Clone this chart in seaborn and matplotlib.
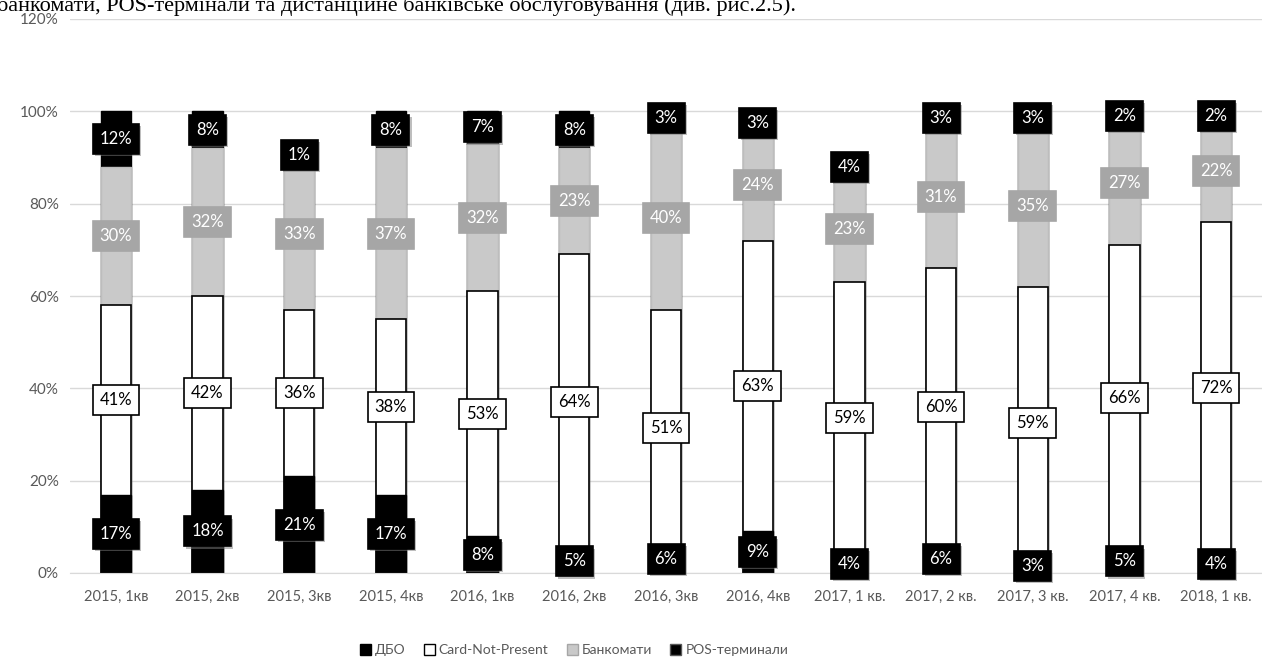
import numpy as np
import pandas as pd
import matplotlib.pyplot as plt
import matplotlib.patheffects as pe
import seaborn as sns
from matplotlib.patches import Patch

# data (shares, %)
quarters = ['2015, 1кв', '2015, 2кв', '2015, 3кв', '2015, 4кв',
            '2016, 1кв', '2016, 2кв', '2016, 3кв', '2016, 4кв',
            '2017, 1 кв.', '2017, 2 кв.', '2017, 3 кв.', '2017, 4 кв.', '2018, 1 кв.']
dbo = [17, 18, 21, 17, 8, 5, 6, 9, 4, 6, 3, 5, 4]
cnp = [41, 42, 36, 38, 53, 64, 51, 63, 59, 60, 59, 66, 72]
atm = [30, 32, 33, 37, 32, 23, 40, 24, 23, 31, 35, 27, 22]
pos = [12, 8, 1, 8, 7, 8, 3, 3, 4, 3, 3, 2, 2]
series_names = ['ДБО', 'Card-Not-Present', 'Банкомати', 'POS-терминали']

sns.set_style('white')
plt.rcParams['font.family'] = ['Lato', 'DejaVu Sans']

df = pd.DataFrame({'quarter': quarters, 'dbo': dbo, 'cnp': cnp, 'atm': atm, 'pos': pos})
df['top_dbo'] = df['dbo']
df['top_cnp'] = df['top_dbo'] + df['cnp']
df['top_atm'] = df['top_cnp'] + df['atm']
df['top_pos'] = df['top_atm'] + df['pos']

fig = plt.figure(figsize=(12.62, 6.62), dpi=100)
ax = fig.add_axes([70 / 1262, 89 / 662, 1192 / 1262, 554 / 662])

bw = 0.33
# stacked bars drawn as overlapping cumulative bars, top layer first
sns.barplot(data=df, x='quarter', y='top_pos', color='black', saturation=1,
            width=bw, edgecolor='black', linewidth=1, ax=ax)
sns.barplot(data=df, x='quarter', y='top_atm', color='#c9c9c9', saturation=1,
            width=bw, edgecolor='#bdbdbd', linewidth=1, ax=ax)
sns.barplot(data=df, x='quarter', y='top_cnp', color='white', saturation=1,
            width=bw, edgecolor='black', linewidth=1.2, ax=ax)
sns.barplot(data=df, x='quarter', y='top_dbo', color='black', saturation=1,
            width=bw, edgecolor='black', linewidth=1, ax=ax)

# data labels in boxes
styles = {
    'dbo': dict(fc='black', ec='black', tc='white', shadow=True),
    'cnp': dict(fc='white', ec='black', tc='black', shadow=False),
    'atm': dict(fc='#a6a6a6', ec='#a6a6a6', tc='white', shadow=False),
    'pos': dict(fc='black', ec='black', tc='white', shadow=True),
}
bottoms = {'dbo': 0, 'cnp': df['top_dbo'], 'atm': df['top_cnp'], 'pos': df['top_atm']}
for key in ['dbo', 'cnp', 'atm', 'pos']:
    st = styles[key]
    for i in range(len(df)):
        b = bottoms[key] if np.isscalar(bottoms[key]) else bottoms[key][i]
        v = df[key][i]
        t = ax.text(i, b + v / 2, f'{v}%', ha='center', va='center', fontsize=12,
                    color=st['tc'], zorder=5,
                    bbox=dict(boxstyle='square,pad=0.42', fc=st['fc'], ec=st['ec'], lw=1.2))
        if st['shadow']:
            t.get_bbox_patch().set_path_effects(
                [pe.withSimplePatchShadow(offset=(1.5, -1.5), shadow_rgbFace='#7f7f7f', alpha=0.5)])

ax.set_xlim(-0.5, len(quarters) - 0.5)
ax.set_ylim(0, 120)
ax.set_yticks(range(0, 121, 20))
ax.set_yticklabels([f'{t}%' for t in range(0, 121, 20)])
ax.yaxis.grid(True, color='#d9d9d9', linewidth=1)
ax.set_axisbelow(True)
for s in ['top', 'right', 'left']:
    ax.spines[s].set_visible(False)
ax.spines['bottom'].set_color('#d9d9d9')
ax.tick_params(axis='x', length=0, pad=12, labelsize=10.5, labelcolor='#595959')
ax.tick_params(axis='y', length=0, pad=8, labelsize=11, labelcolor='#595959')
ax.set_xlabel('')
ax.set_ylabel('')

handles = [Patch(fc='black', ec='black'),
           Patch(fc='white', ec='black'),
           Patch(fc='#c9c9c9', ec='#a6a6a6'),
           Patch(fc='black', ec='#595959')]
fig.legend(handles, series_names, loc='center', bbox_to_anchor=(574 / 1262, 12 / 662),
           ncol=4, frameon=False, fontsize=10, handlelength=0.8, handleheight=0.8,
           handletextpad=0.3, columnspacing=1.3, labelcolor='#595959')

# cut-off line of the surrounding document text
fig.text(-0.002, 651 / 662, 'банкомати, POS-термінали та дистанційне банківське обслуговування (див. рис.2.5).',
         family='Liberation Serif', fontsize=16, ha='left', va='baseline', color='black')

fig.savefig('out.png', dpi=100)
